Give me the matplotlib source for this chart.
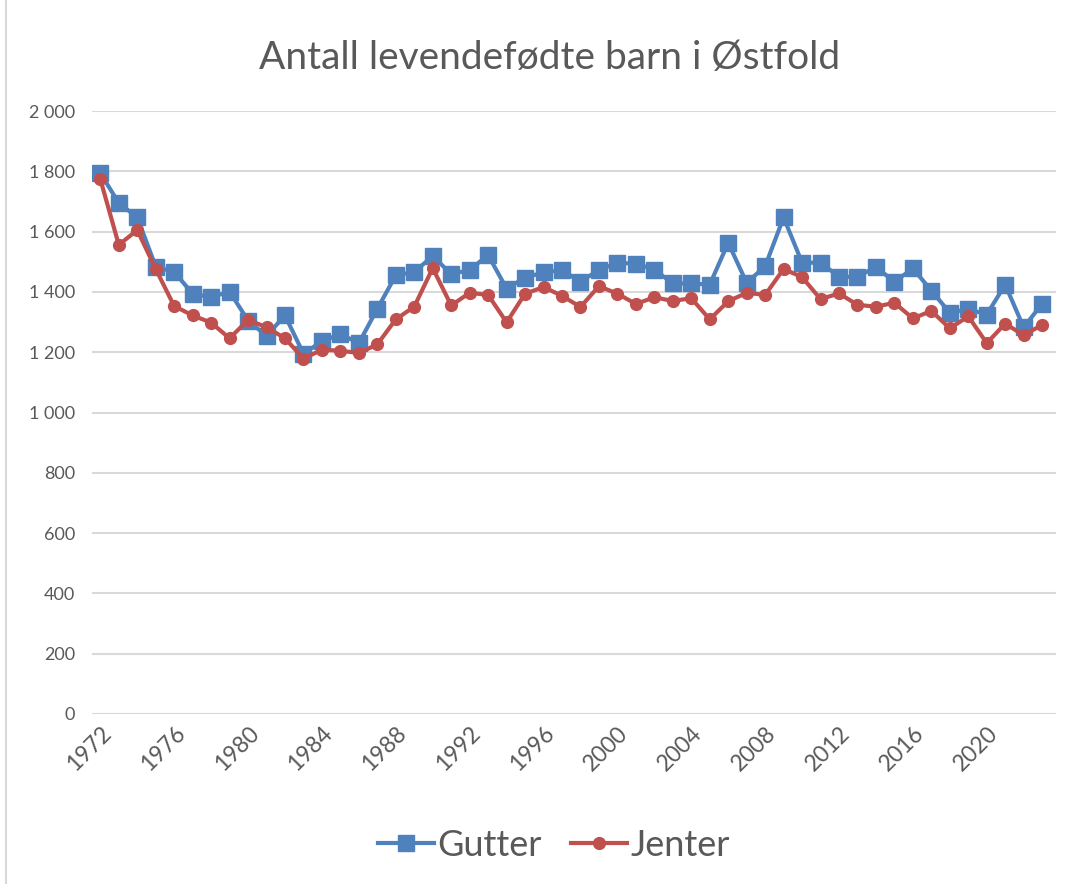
import matplotlib.pyplot as plt
from matplotlib.ticker import FuncFormatter
from matplotlib.lines import Line2D

plt.rcParams['font.family'] = ['Lato', 'DejaVu Sans']

years = list(range(1972, 2024))

gutter = [1794, 1695, 1647, 1484, 1466, 1394, 1382, 1401, 1305, 1254,
          1322, 1195, 1236, 1260, 1230, 1344, 1455, 1466, 1519, 1459,
          1473, 1522, 1411, 1447, 1465, 1472, 1434, 1473, 1496, 1494,
          1474, 1428, 1428, 1424, 1563, 1430, 1485, 1647, 1497, 1497,
          1450, 1450, 1483, 1433, 1478, 1404, 1331, 1343, 1325, 1424,
          1282, 1361]

jenter = [1774, 1556, 1605, 1476, 1353, 1322, 1298, 1246, 1307, 1283,
          1246, 1179, 1208, 1205, 1197, 1226, 1309, 1351, 1479, 1355,
          1397, 1390, 1299, 1394, 1416, 1387, 1350, 1419, 1394, 1360,
          1382, 1370, 1379, 1309, 1369, 1397, 1390, 1476, 1449, 1376,
          1395, 1357, 1351, 1364, 1312, 1337, 1279, 1319, 1230, 1295,
          1256, 1291]

blue = '#4F81BD'
red = '#C0504D'
grey = '#595959'

fig = plt.figure(figsize=(10.8, 8.84), dpi=100)
ax = fig.add_axes([92 / 1080, 1 - 714 / 884, (1056 - 92) / 1080, (714 - 111) / 884])

ax.plot(years, gutter, color=blue, lw=3, marker='s', ms=11, label='Gutter')
ax.plot(years, jenter, color=red, lw=3, marker='o', ms=8.5, label='Jenter')

ax.set_ylim(0, 2000)
ax.set_xlim(1971.55, 2023.75)
ax.set_yticks(range(0, 2001, 200))
ax.yaxis.set_major_formatter(FuncFormatter(lambda v, p: f"{v:,.0f}".replace(",", " ")))
ax.set_xticks(range(1972, 2021, 4))
ax.grid(axis='y', color='#D9D9D9', lw=1.5)
ax.set_axisbelow(True)
for s in ax.spines.values():
    s.set_visible(False)
ax.tick_params(axis='y', length=0, pad=12, labelsize=13, labelcolor=grey)
ax.tick_params(axis='x', length=0, pad=6, labelsize=16.5, labelcolor=grey)
for lbl in ax.get_xticklabels():
    lbl.set_rotation(45)
    lbl.set_ha('right')
    lbl.set_rotation_mode('anchor')

fig.text(550 / 1080, 1 - 58 / 884, 'Antall levendefødte barn i Østfold',
         ha='center', va='center', fontsize=28, color=grey)

handles = [Line2D([], [], color=blue, lw=3, marker='s', ms=11),
           Line2D([], [], color=red, lw=3, marker='o', ms=8.5)]
fig.legend(handles, ['Gutter', 'Jenter'], loc='center', ncol=2,
           bbox_to_anchor=(554 / 1080, 1 - 845 / 884), frameon=False,
           fontsize=26, labelcolor=grey, handlelength=1.55, handletextpad=0.1,
           columnspacing=0.8)

fig.add_artist(Line2D([6 / 1080, 6 / 1080], [0, 1], color='#D9D9D9', lw=1.5))

fig.savefig('out.png', dpi=100)
